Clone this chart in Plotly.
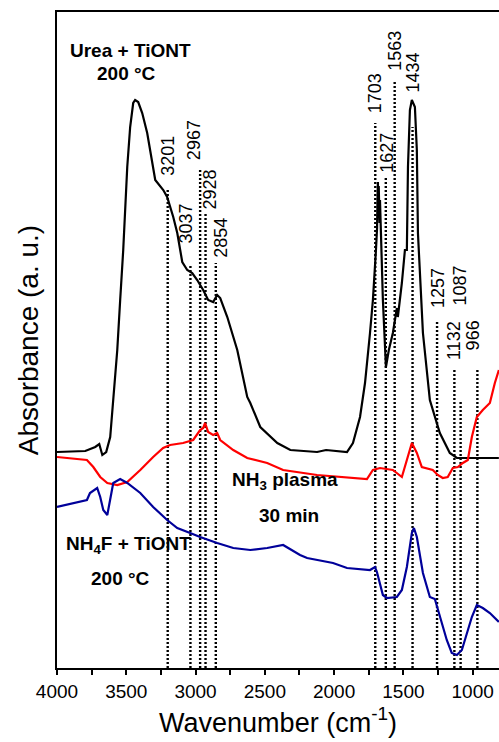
import plotly.graph_objects as go

# FTIR spectra (wavenumber in cm-1, absorbance in arbitrary units, offset per sample)
urea_wn = [4000, 3796, 3724, 3695, 3673, 3645, 3616, 3594, 3565, 3544, 3522, 3493,
           3472, 3450, 3436, 3414, 3385, 3349, 3313, 3291, 3233, 3205, 3161, 3132,
           3096, 3060, 3024, 2988, 2945, 2909, 2873, 2844, 2822, 2771, 2699, 2627,
           2605, 2533, 2410, 2316, 2123, 2058, 1907, 1864, 1813, 1777, 1741, 1720,
           1698, 1690, 1686, 1684, 1681, 1678, 1672, 1669, 1648, 1626, 1605, 1576,
           1547, 1540, 1511, 1489, 1475, 1467, 1453, 1439, 1417, 1403, 1395, 1359,
           1309, 1237, 1165, 1114, 1020, 811]
urea_abs = [2.16, 2.17, 2.21, 2.24, 2.13, 2.16, 2.31, 2.68, 3.18, 3.68, 4.18, 5.01,
            5.41, 5.65, 5.68, 5.66, 5.55, 5.35, 5.08, 4.88, 4.78, 4.71, 4.51, 4.35,
            4.06, 3.98, 3.95, 3.88, 3.78, 3.68, 3.66, 3.73, 3.70, 3.51, 3.18, 2.71,
            2.65, 2.41, 2.25, 2.18, 2.16, 2.18, 2.16, 2.25, 2.51, 2.85, 3.35, 3.68,
            4.18, 4.40, 4.75, 4.86, 4.55, 4.82, 4.45, 4.68, 3.68, 3.01, 3.18, 3.35,
            3.60, 3.51, 3.85, 4.18, 4.18, 5.01, 5.58, 5.68, 5.61, 5.18, 4.35, 3.35,
            2.68, 2.35, 2.15, 2.10, 2.10, 2.10]

plasma_wn = [4000, 3928, 3784, 3738, 3688, 3637, 3565, 3493, 3399, 3306, 3234, 3184,
             3090, 3017, 2967, 2945, 2931, 2909, 2873, 2844, 2822, 2728, 2627, 2483,
             2368, 2123, 1885, 1763, 1720, 1669, 1576, 1511, 1475, 1439, 1403, 1367,
             1288, 1252, 1216, 1180, 1143, 1107, 1071, 1035, 1006, 970, 927, 876,
             840, 811]
plasma_abs = [2.11, 2.10, 2.08, 2.01, 1.91, 1.85, 1.83, 1.86, 1.98, 2.11, 2.20, 2.23,
              2.25, 2.28, 2.38, 2.40, 2.45, 2.36, 2.33, 2.35, 2.28, 2.18, 2.10, 2.05,
              1.98, 1.93, 1.90, 1.89, 1.98, 2.00, 1.98, 1.91, 2.08, 2.25, 2.15, 2.01,
              1.98, 1.93, 1.90, 1.91, 2.00, 2.01, 2.05, 2.08, 2.31, 2.51, 2.58, 2.65,
              2.85, 2.98]

nh4f_wn = [4000, 3884, 3784, 3762, 3710, 3688, 3666, 3637, 3630, 3616, 3594, 3544,
           3493, 3399, 3306, 3205, 3132, 3039, 2967, 2844, 2728, 2605, 2483, 2368,
           2246, 2195, 2008, 1907, 1741, 1705, 1691, 1648, 1619, 1547, 1511, 1475,
           1439, 1424, 1403, 1359, 1309, 1273, 1237, 1187, 1151, 1114, 1078, 1042,
           1006, 970, 927, 876, 811]
nh4f_abs = [1.61, 1.65, 1.68, 1.75, 1.80, 1.71, 1.58, 1.53, 1.58, 1.71, 1.85, 1.89,
            1.85, 1.75, 1.61, 1.48, 1.40, 1.35, 1.31, 1.25, 1.20, 1.18, 1.20, 1.23,
            1.13, 1.10, 1.05, 1.00, 0.98, 1.01, 0.96, 0.73, 0.70, 0.71, 0.78, 1.01,
            1.35, 1.40, 1.31, 0.95, 0.71, 0.69, 0.51, 0.28, 0.15, 0.13, 0.18, 0.35,
            0.51, 0.63, 0.60, 0.55, 0.46]

# Assigned band positions and the height where each marker line ends
band_wn = [3201, 3037, 2967, 2928, 2854, 1703, 1627, 1563, 1434, 1257, 1132, 1087, 966]
band_top = [4.80, 4.03, 4.98, 4.55, 4.05, 5.45, 4.91, 5.88, 5.41, 3.48, 2.98, 2.66, 3.00]

# Placement of the rotated band labels (base height, horizontal nudge in px)
label_base = [4.90, 4.23, 5.06, 4.56, 4.08, 5.53, 4.93, 5.95, 5.73, 3.58, 3.06, 3.60, 3.16]
label_dx = [0, -4, -6, 4, 5, 0, 1, 0, 0, 1, -1, -1, -4]

FONT = "Arial, Liberation Sans, sans-serif"

fig = go.Figure()

# Dotted band markers
for wn, top in zip(band_wn, band_top):
    fig.add_trace(go.Scatter(
        x=[wn, wn], y=[0, top], mode="lines",
        line=dict(color="black", width=2.4, dash="2px,2px"),
        hoverinfo="skip", showlegend=False))

fig.add_trace(go.Scatter(x=urea_wn, y=urea_abs, mode="lines",
                         line=dict(color="black", width=2.2), name="Urea + TiONT",
                         showlegend=False))
fig.add_trace(go.Scatter(x=plasma_wn, y=plasma_abs, mode="lines",
                         line=dict(color="#ff0000", width=2.2), name="NH3 plasma",
                         showlegend=False))
fig.add_trace(go.Scatter(x=nh4f_wn, y=nh4f_abs, mode="lines",
                         line=dict(color="#00009a", width=2.2), name="NH4F + TiONT",
                         showlegend=False))

annotations = []
for wn, base, dx in zip(band_wn, label_base, label_dx):
    annotations.append(dict(
        x=wn, y=base, xref="x", yref="y", text=str(wn), textangle=-90,
        showarrow=False, xanchor="center", yanchor="bottom", xshift=dx,
        font=dict(family=FONT, size=18, color="black")))

sample_labels = [
    ("Urea + TiONT", 3471, 6.18),
    ("200 °C", 3500, 5.95),
    ("NH<sub>3</sub> plasma", 2354, 1.87),
    ("30 min", 2325, 1.53),
    ("NH<sub>4</sub>F + TiONT", 3486, 1.23),
    ("200 °C", 3544, 0.90),
]
for text, x, y in sample_labels:
    annotations.append(dict(
        x=x, y=y, xref="x", yref="y", text=text,
        showarrow=False, xanchor="center", yanchor="middle",
        font=dict(family=FONT, size=19, color="black", weight="bold")))

fig.update_layout(
    width=499, height=742,
    margin=dict(l=57, r=0, t=12, b=74),
    paper_bgcolor="white", plot_bgcolor="white",
    annotations=annotations,
    xaxis=dict(
        range=[4000, 810], showgrid=False, zeroline=False,
        showline=True, linecolor="black", linewidth=2, mirror=True,
        ticks="outside", ticklen=5, tickwidth=1.5, tickcolor="black",
        tickmode="array", tickvals=[4000, 3500, 3000, 2500, 2000, 1500, 1000],
        minor=dict(ticks="outside", ticklen=5, tickwidth=1.5, tickcolor="black",
                   dtick=250, tick0=1000, showgrid=False),
        tickfont=dict(family=FONT, size=19, color="black"),
        title=dict(text="Wavenumber (cm<sup>-1</sup>)", standoff=12,
                   font=dict(family=FONT, size=27, color="black")),
    ),
    yaxis=dict(
        range=[0, 6.56], showgrid=False, zeroline=False,
        showline=True, linecolor="black", linewidth=2, mirror=False,
        ticks="", showticklabels=False,
        title=dict(text="Absorbance (a. u.)", standoff=8,
                   font=dict(family=FONT, size=28, color="black")),
    ),
)

fig.write_html("out.html")
